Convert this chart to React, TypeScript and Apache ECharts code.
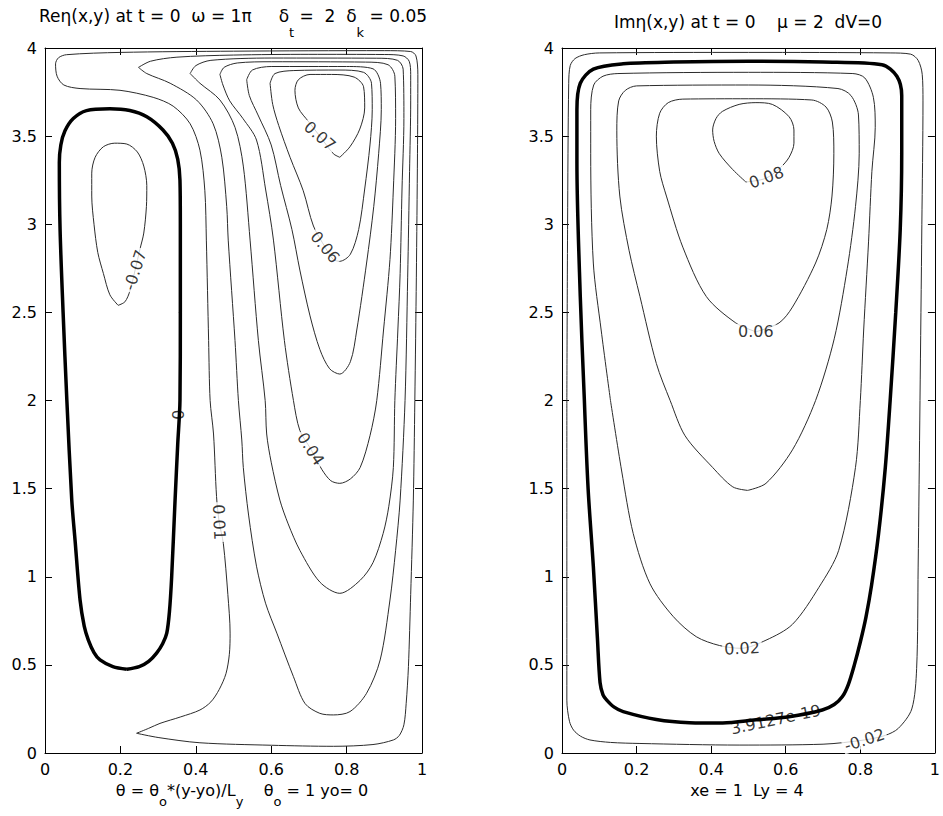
import React, { useEffect, useRef } from "react";
import * as echarts from "echarts";

type Pt = [number, number];

// ---------- Left panel: Re eta contours ----------
const reLevelZero: Pt[] = [
  [0.217, 0.475], [0.25, 0.49], [0.275, 0.52], [0.296, 0.567], [0.312, 0.62], [0.323, 0.68], [0.33, 0.8],
  [0.336, 1.0], [0.345, 1.435], [0.352, 1.75], [0.358, 2.0], [0.359, 2.5], [0.359, 3.0], [0.358, 3.25],
  [0.352, 3.37], [0.338, 3.46], [0.313, 3.535], [0.27, 3.61], [0.225, 3.645], [0.172, 3.655], [0.11, 3.645],
  [0.075, 3.6], [0.053, 3.53], [0.042, 3.45], [0.038, 3.35], [0.04, 2.97], [0.048, 2.5], [0.058, 2.0],
  [0.071, 1.435], [0.08, 1.2], [0.093, 0.868], [0.104, 0.72], [0.115, 0.641], [0.13, 0.57], [0.146, 0.528],
  [0.18, 0.49], [0.217, 0.475],
];
const reLevelNeg007: Pt[] = [
  [0.194, 2.54], [0.212, 2.56], [0.225, 2.62], [0.239, 2.74], [0.252, 2.86], [0.262, 2.95], [0.269, 3.1],
  [0.27, 3.22], [0.262, 3.33], [0.245, 3.41], [0.217, 3.455], [0.185, 3.46], [0.155, 3.44], [0.133, 3.38],
  [0.124, 3.29], [0.124, 3.16], [0.13, 3.0], [0.14, 2.84], [0.155, 2.72], [0.172, 2.6], [0.194, 2.54],
];
const reLevel001: Pt[] = [
  [0.243, 0.112], [0.275, 0.14], [0.305, 0.168], [0.36, 0.205], [0.411, 0.244], [0.44, 0.29], [0.462, 0.36],
  [0.48, 0.45], [0.489, 0.56], [0.491, 0.68], [0.485, 0.9], [0.473, 1.19], [0.462, 1.31], [0.455, 1.455],
  [0.447, 1.81], [0.438, 2.0], [0.434, 2.34], [0.428, 2.91], [0.424, 3.19], [0.411, 3.42], [0.385, 3.57],
  [0.34, 3.67], [0.287, 3.72], [0.199, 3.76], [0.093, 3.77], [0.05, 3.79], [0.032, 3.84], [0.028, 3.91],
  [0.036, 3.945], [0.057, 3.962], [0.2, 3.975], [0.5, 3.982], [0.9, 3.985], [0.97, 3.98], [0.984, 3.955],
  [0.989, 3.85], [0.988, 3.4], [0.985, 2.7], [0.981, 2.0], [0.977, 1.435], [0.97, 0.9], [0.964, 0.49],
  [0.958, 0.28], [0.952, 0.16], [0.94, 0.1], [0.924, 0.074], [0.87, 0.048], [0.765, 0.038], [0.6, 0.044],
  [0.411, 0.058], [0.3, 0.088], [0.243, 0.112],
];
const reLevel002: Pt[] = [
  [0.248, 3.89], [0.28, 3.925], [0.35, 3.948], [0.5, 3.96], [0.7, 3.964], [0.9, 3.963], [0.95, 3.955],
  [0.966, 3.925], [0.97, 3.85], [0.97, 3.7], [0.967, 3.3], [0.962, 2.7], [0.955, 2.0], [0.942, 1.435],
  [0.93, 1.15], [0.915, 0.868], [0.889, 0.528], [0.853, 0.339], [0.809, 0.235], [0.765, 0.216], [0.729, 0.225],
  [0.69, 0.28], [0.659, 0.433], [0.615, 0.68], [0.585, 0.85], [0.561, 1.06], [0.54, 1.35], [0.526, 1.62],
  [0.522, 1.776], [0.513, 2.0], [0.504, 2.34], [0.486, 2.91], [0.482, 3.1], [0.469, 3.38], [0.446, 3.57],
  [0.402, 3.705], [0.332, 3.8], [0.27, 3.855], [0.248, 3.89],
];
const reLevel003: Pt[] = [
  [0.385, 3.855], [0.4, 3.9], [0.44, 3.93], [0.6, 3.943], [0.88, 3.942], [0.935, 3.93], [0.95, 3.88],
  [0.952, 3.6], [0.947, 3.2], [0.942, 2.72], [0.936, 2.4], [0.928, 2.0], [0.924, 1.62], [0.912, 1.4],
  [0.897, 1.246], [0.87, 1.08], [0.836, 0.98], [0.782, 0.906], [0.729, 0.97], [0.676, 1.15], [0.645, 1.3],
  [0.623, 1.435], [0.6, 1.65], [0.588, 1.81], [0.584, 2.0], [0.566, 2.34], [0.544, 2.91], [0.526, 3.33],
  [0.504, 3.55], [0.464, 3.705], [0.411, 3.8], [0.385, 3.855],
];
const reLevel004: Pt[] = [
  [0.464, 3.85], [0.475, 3.89], [0.51, 3.915], [0.6, 3.922], [0.85, 3.92], [0.91, 3.905], [0.928, 3.84],
  [0.93, 3.6], [0.924, 3.2], [0.915, 2.8], [0.898, 2.4], [0.88, 2.0], [0.862, 1.8], [0.836, 1.62],
  [0.81, 1.555], [0.782, 1.53], [0.758, 1.545], [0.734, 1.61], [0.705, 1.725], [0.676, 1.83], [0.659, 2.0],
  [0.635, 2.34], [0.606, 2.91], [0.585, 3.2], [0.561, 3.478], [0.525, 3.6], [0.49, 3.7], [0.472, 3.79],
  [0.464, 3.85],
];
const reLevel005: Pt[] = [
  [0.535, 3.82], [0.55, 3.875], [0.6, 3.895], [0.8, 3.895], [0.87, 3.882], [0.89, 3.8], [0.892, 3.65],
  [0.885, 3.4], [0.872, 3.1], [0.853, 2.78], [0.827, 2.4], [0.81, 2.22], [0.782, 2.15], [0.755, 2.18],
  [0.729, 2.29], [0.703, 2.48], [0.676, 2.74], [0.655, 2.97], [0.625, 3.22], [0.6, 3.45], [0.565, 3.62],
  [0.542, 3.73], [0.535, 3.82],
];
const reLevel006: Pt[] = [
  [0.597, 3.8], [0.61, 3.855], [0.66, 3.872], [0.78, 3.875], [0.845, 3.862], [0.866, 3.8], [0.868, 3.65],
  [0.862, 3.45], [0.848, 3.2], [0.832, 2.97], [0.81, 2.83], [0.782, 2.79], [0.765, 2.8], [0.743, 2.87],
  [0.712, 2.99], [0.685, 3.19], [0.65, 3.38], [0.62, 3.56], [0.604, 3.68], [0.597, 3.8],
];
const reLevel007: Pt[] = [
  [0.782, 3.38], [0.809, 3.44], [0.835, 3.54], [0.848, 3.66], [0.845, 3.78], [0.82, 3.835], [0.76, 3.85],
  [0.703, 3.85], [0.672, 3.82], [0.663, 3.76], [0.672, 3.66], [0.7, 3.58], [0.729, 3.5], [0.765, 3.4],
  [0.782, 3.38],
];
const reLabelTexts = ["0.07", "0.06", "0.04", "0.01", "0", "-0.07"];
const reLabelPoints: Pt[] = [
  [0.729, 3.5], [0.743, 2.87], [0.705, 1.725], [0.462, 1.31], [0.353, 1.92], [0.239, 2.74],
];
const reLabelAngles = [-41, -50, -57, -88, 90, 72];

// ---------- Right panel: Im eta contours ----------
const imLevelNeg002: Pt[] = [
  [0.013, 2.0], [0.013, 1.0], [0.013, 0.3], [0.02, 0.18], [0.031, 0.13], [0.05, 0.095], [0.075, 0.074],
  [0.13, 0.06], [0.209, 0.054], [0.475, 0.045], [0.7, 0.05], [0.811, 0.074], [0.867, 0.1], [0.902, 0.14],
  [0.938, 0.25], [0.951, 0.48], [0.955, 1.05], [0.96, 2.0], [0.965, 3.0], [0.968, 3.7], [0.966, 3.85],
  [0.955, 3.93], [0.935, 3.965], [0.88, 3.972], [0.5, 3.975], [0.1, 3.972], [0.06, 3.962], [0.035, 3.94],
  [0.022, 3.9], [0.018, 3.8], [0.015, 3.0], [0.013, 2.0],
];
const imLevelZero: Pt[] = [
  [0.06, 2.0], [0.07, 1.5], [0.084, 1.06], [0.095, 0.65], [0.102, 0.4], [0.11, 0.33], [0.12, 0.3],
  [0.14, 0.26], [0.164, 0.235], [0.253, 0.19], [0.342, 0.172], [0.431, 0.17], [0.52, 0.188], [0.609, 0.206],
  [0.698, 0.244], [0.73, 0.275], [0.752, 0.32], [0.768, 0.39], [0.784, 0.5], [0.8, 0.63], [0.815, 0.77],
  [0.83, 0.95], [0.849, 1.245], [0.867, 1.62], [0.88, 2.0], [0.895, 2.5], [0.907, 2.97], [0.911, 3.4],
  [0.911, 3.73], [0.898, 3.84], [0.858, 3.905], [0.7, 3.92], [0.5, 3.925], [0.3, 3.92], [0.164, 3.91],
  [0.084, 3.88], [0.049, 3.8], [0.04, 3.65], [0.04, 3.35], [0.049, 2.59], [0.06, 2.0],
];
const imLevel002: Pt[] = [
  [0.13, 2.0], [0.16, 1.6], [0.191, 1.245], [0.236, 0.96], [0.298, 0.775], [0.36, 0.66], [0.422, 0.61],
  [0.48, 0.594], [0.547, 0.64], [0.618, 0.73], [0.689, 0.94], [0.742, 1.15], [0.787, 1.62], [0.8, 2.0],
  [0.809, 2.4], [0.822, 2.9], [0.831, 3.3], [0.84, 3.55], [0.835, 3.72], [0.812, 3.83], [0.78, 3.855],
  [0.5, 3.862], [0.15, 3.855], [0.11, 3.84], [0.085, 3.79], [0.077, 3.65], [0.077, 3.4], [0.084, 2.78],
  [0.105, 2.4], [0.13, 2.0],
];
const imLevel004: Pt[] = [
  [0.498, 1.49], [0.547, 1.53], [0.618, 1.72], [0.68, 2.0], [0.73, 2.35], [0.765, 2.75], [0.787, 3.1],
  [0.797, 3.4], [0.795, 3.62], [0.775, 3.73], [0.74, 3.77], [0.5, 3.79], [0.2, 3.785], [0.17, 3.76],
  [0.152, 3.7], [0.147, 3.53], [0.155, 3.16], [0.18, 2.85], [0.209, 2.59], [0.253, 2.21], [0.29, 2.0],
  [0.33, 1.8], [0.404, 1.62], [0.458, 1.51], [0.498, 1.49],
];
const imLevel006: Pt[] = [
  [0.52, 2.39], [0.582, 2.44], [0.618, 2.53], [0.68, 2.78], [0.71, 2.97], [0.724, 3.16], [0.729, 3.4],
  [0.725, 3.58], [0.708, 3.665], [0.67, 3.705], [0.5, 3.712], [0.324, 3.71], [0.285, 3.69], [0.262, 3.63],
  [0.253, 3.5], [0.262, 3.3], [0.28, 3.16], [0.324, 2.87], [0.387, 2.59], [0.466, 2.44], [0.52, 2.39],
];
const imLevel008: Pt[] = [
  [0.493, 3.24], [0.546, 3.26], [0.585, 3.32], [0.609, 3.38], [0.622, 3.46], [0.622, 3.535], [0.609, 3.61],
  [0.564, 3.68], [0.52, 3.69], [0.475, 3.68], [0.43, 3.64], [0.413, 3.6], [0.404, 3.535], [0.408, 3.47],
  [0.422, 3.4], [0.458, 3.31], [0.493, 3.24],
];
const imLabelTexts = ["0.08", "0.06", "0.02", "3.9127e-19", "-0.02"];
const imLabelPoints: Pt[] = [[0.548, 3.265], [0.52, 2.39], [0.483, 0.594], [0.573, 0.19], [0.811, 0.074]];
const imLabelAngles = [20, 0, 3, 12, 18];

// ---------- Axis ranges ----------
const xRange = { min: 0, max: 1, interval: 0.2 };
const yRange = { min: 0, max: 4, interval: 0.5 };

const FONT = "DejaVu Sans";
const unmasked = new Set(["0", "3.9127e-19"]);

function buildOption(): any {
  const grids = [
    { left: 45, top: 48, width: 377, height: 705 },
    { left: 562, top: 48, width: 375, height: 705 },
  ];
  const axisCommon = (showLabel: boolean) => ({
    type: "value",
    axisLine: { show: true, onZero: false, lineStyle: { color: "#000", width: 1 } },
    axisTick: { show: true, inside: true, length: 7, lineStyle: { color: "#000", width: 1 } },
    axisLabel: { show: showLabel, color: "#000", fontSize: 16, fontFamily: FONT, margin: 8 },
    splitLine: { show: false },
  });
  const xAxis: any[] = [];
  const yAxis: any[] = [];
  [0, 1].forEach((g) => {
    xAxis.push({ ...axisCommon(true), gridIndex: g, position: "bottom", ...xRange });
    xAxis.push({ ...axisCommon(false), gridIndex: g, position: "top", ...xRange });
    yAxis.push({ ...axisCommon(true), gridIndex: g, position: "left", ...yRange });
    yAxis.push({ ...axisCommon(false), gridIndex: g, position: "right", ...yRange });
  });

  const contour = (data: Pt[], g: number, thick = false) => ({
    type: "line",
    data,
    xAxisIndex: g * 2,
    yAxisIndex: g * 2,
    symbol: "none",
    showSymbol: false,
    smooth: 0.3,
    silent: true,
    z: thick ? 3 : 2,
    lineStyle: { color: thick ? "#000" : "#2b2b2b", width: thick ? 3.5 : 1 },
  });
  const labels = (texts: string[], pts: Pt[], angles: number[], g: number) => ({
    type: "scatter",
    xAxisIndex: g * 2,
    yAxisIndex: g * 2,
    symbolSize: 1,
    silent: true,
    z: 10,
    itemStyle: { color: "rgba(0,0,0,0)" },
    data: pts.map((p, i) => ({
      value: p,
      label: {
        show: true,
        position: "inside",
        formatter: texts[i],
        rotate: angles[i],
        color: "#000",
        fontSize: 16,
        fontFamily: FONT,
        backgroundColor: unmasked.has(texts[i]) ? "transparent" : "#fff",
        padding: [0, 2],
      },
    })),
  });

  const series = [
    contour(reLevelNeg007, 0),
    contour(reLevel001, 0),
    contour(reLevel002, 0),
    contour(reLevel003, 0),
    contour(reLevel004, 0),
    contour(reLevel005, 0),
    contour(reLevel006, 0),
    contour(reLevel007, 0),
    contour(reLevelZero, 0, true),
    labels(reLabelTexts, reLabelPoints, reLabelAngles, 0),
    contour(imLevelNeg002, 1),
    contour(imLevel002, 1),
    contour(imLevel004, 1),
    contour(imLevel006, 1),
    contour(imLevel008, 1),
    contour(imLevelZero, 1, true),
    labels(imLabelTexts, imLabelPoints, imLabelAngles, 1),
  ];

  const rich = (size: number, subPad: number) => ({
    m: { fontSize: size, lineHeight: 20, fontFamily: FONT, fill: "#000", verticalAlign: "top" },
    s: { fontSize: 13, lineHeight: 14, fontFamily: FONT, fill: "#000", verticalAlign: "top", padding: [subPad, 0, 0, 0] },
  });
  const nb = (n: number) => "\u00a0".repeat(n);
  const graphic = [
    {
      type: "text",
      x: 233,
      y: 7,
      style: {
        text: `{m|Reη(x,y) at t = 0${nb(2)}ω = 1π${nb(5)}δ}{s|t}{m| =${nb(2)}2${nb(2)}δ}{s|k}{m| = 0.05}`,
        rich: rich(17, 19),
        align: "center",
        verticalAlign: "top",
      },
    },
    {
      type: "text",
      x: 748,
      y: 13,
      style: {
        text: `{m|Imη(x,y) at t = 0${nb(4)}μ = 2${nb(2)}dV=0}`,
        rich: rich(17, 0),
        align: "center",
        verticalAlign: "top",
      },
    },
    {
      type: "text",
      x: 242,
      y: 782,
      style: {
        text: `{m|θ = θ}{s|o}{m|*(y-yo)/L}{s|y}{m|${nb(4)}θ}{s|o}{m| = 1 yo= 0}`,
        rich: rich(16, 13),
        align: "center",
        verticalAlign: "top",
      },
    },
    {
      type: "text",
      x: 747,
      y: 782,
      style: {
        text: `{m|xe = 1${nb(2)}Ly = 4}`,
        rich: rich(16, 0),
        align: "center",
        verticalAlign: "top",
      },
    },
  ];

  return {
    animation: false,
    backgroundColor: "#fff",
    grid: grids,
    xAxis,
    yAxis,
    series,
    graphic,
  };
}

export default function App() {
  const ref = useRef<HTMLDivElement>(null);
  useEffect(() => {
    if (!ref.current) return;
    const chart = echarts.init(ref.current, undefined, { renderer: "svg" });
    chart.setOption(buildOption());
    return () => chart.dispose();
  }, []);
  return (
    <div
      ref={ref}
      style={{ position: "absolute", left: 0, top: 0, width: 943, height: 816, background: "#fff" }}
    />
  );
}
